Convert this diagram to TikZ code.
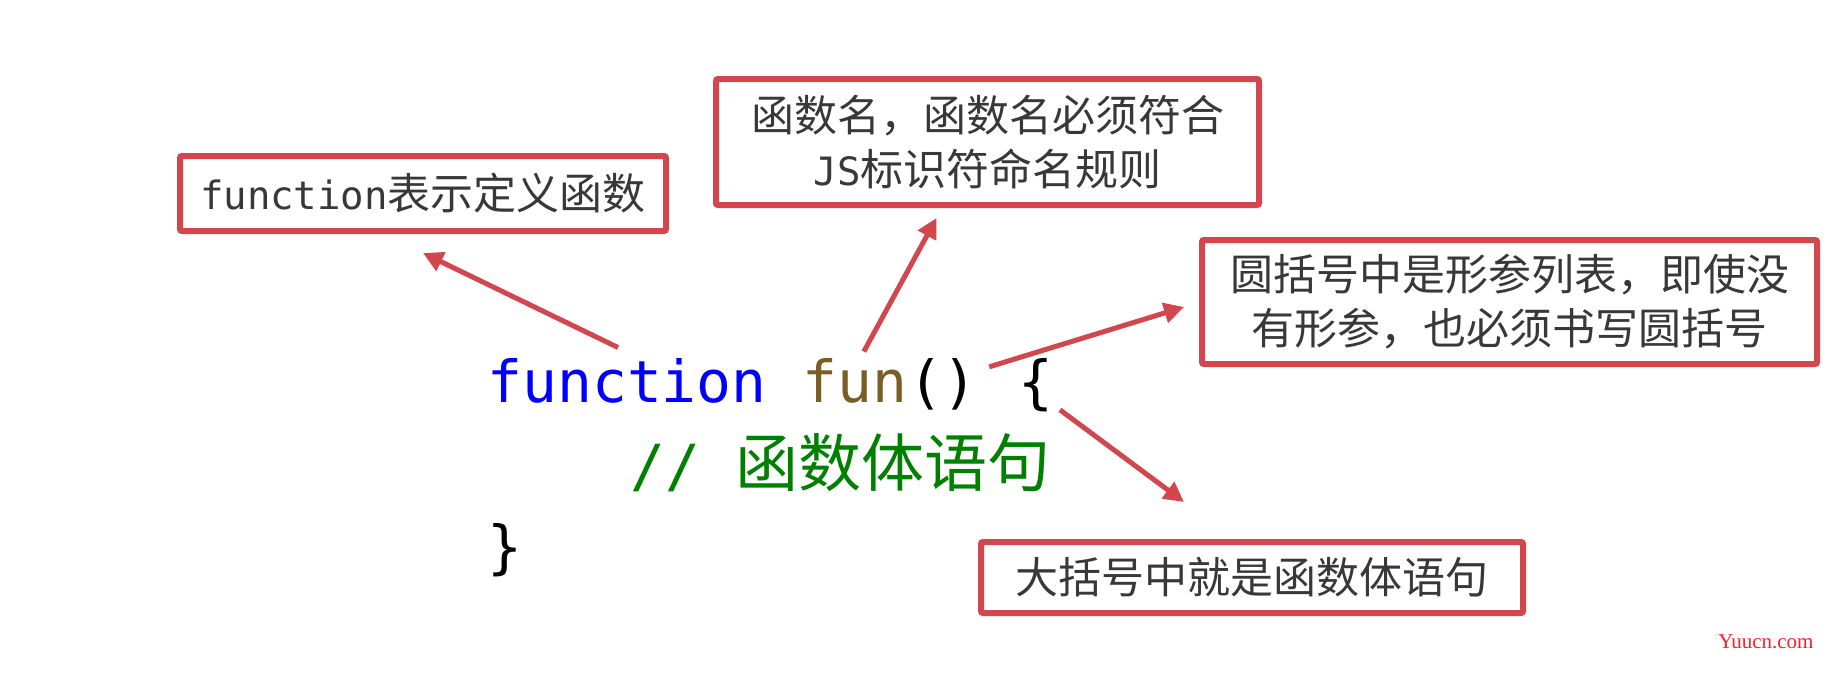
\documentclass[tikz,border=0pt]{standalone}
\usepackage{fontspec}
\usepackage{xcolor}
\usetikzlibrary{arrows.meta}
\usetikzlibrary{calc}
\newfontfamily\cjk{Noto Sans CJK SC}
\newfontfamily\codefont{DejaVu Sans Mono}
\newfontfamily\wmfont{Liberation Serif}
\newcommand\boxmono{\codefont\fontsize{19.5pt}{27pt}\selectfont}
\definecolor{boxred}{RGB}{210,70,78}
\definecolor{kwblue}{RGB}{0,0,255}
\definecolor{fnbrown}{RGB}{121,94,38}
\definecolor{cmtgreen}{RGB}{0,128,0}
\definecolor{notegray}{RGB}{56,56,56}
\definecolor{wmred}{RGB}{250,30,40}

\begin{document}
\begin{tikzpicture}[x=0.5pt, y=-0.5pt,
	note/.style={draw=boxred, line width=3pt, fill=white, rounded corners=1pt, align=center, text=notegray, inner sep=0pt, font=\cjk\fontsize{21.5pt}{27pt}\selectfont},
	code/.style={anchor=base west, inner sep=0pt, font=\codefont\fontsize{29pt}{35pt}\selectfont},
	callout/.style={draw=boxred, line width=2.5pt, -{Triangle[length=10pt, width=10pt]}}]
	\useasboundingbox (0,0) rectangle (1829,696);
	
	\node[code, text=kwblue] (kw) at (487,402) {function};
	\node[code, text=fnbrown] (fname) at ($(kw.base east)+(34.9,0)$) {fun};
	\node[code] (params) at (fname.base east) {()};
	\node[code] (lbrace) at ($(params.base east)+(40,0)$) {\{};
	\node[code, text=cmtgreen] (cmt) at (630,486) {// {\cjk\fontsize{31.5pt}{35pt}\selectfont 函数体语句}};
	\node[code] (rbrace) at (487,567) {\}};
	
	\node[note, minimum width=243pt, minimum height=37.5pt] (def) at (423,193.5) {{\boxmono function}表示定义函数};
	\node[note, minimum width=271.5pt, minimum height=63pt] (name) at (987.5,142) {函数名，函数名必须符合\\{\boxmono JS}标识符命名规则};
	\node[note, minimum width=307.5pt, minimum height=62pt] (args) at (1509.5,302) {圆括号中是形参列表，即使没\\有形参，也必须书写圆括号};
	\node[note, minimum width=271pt, minimum height=35.5pt] (body) at (1252,577.5) {大括号中就是函数体语句};
	
	\coordinate (tip1) at ($(def.south)+(0,19)$);
	\coordinate (tip2) at ($(name.south)+(-51,10)$);
	\coordinate (tip3) at ($(args.west)+(-15,5)$);
	\coordinate (tip4) at ($(body.north)+(-68,-37)$);
	
	\draw[callout] ($(kw.north)+(-9,-10)$) -- (tip1);
	\draw[callout] ($(fname.north)+(9,-6)$) -- (tip2);
	\draw[callout] ($(params.east)+(11,-17)$) -- (tip3);
	\draw[callout] ($(lbrace.south east)+(6,-2)$) -- (tip4);
	
	\node[anchor=base west, inner sep=0pt, text=wmred, font=\wmfont\fontsize{10.5pt}{12pt}\selectfont] (wm) at (1718,648) {Yuucn.com};
\end{tikzpicture}
\end{document}
